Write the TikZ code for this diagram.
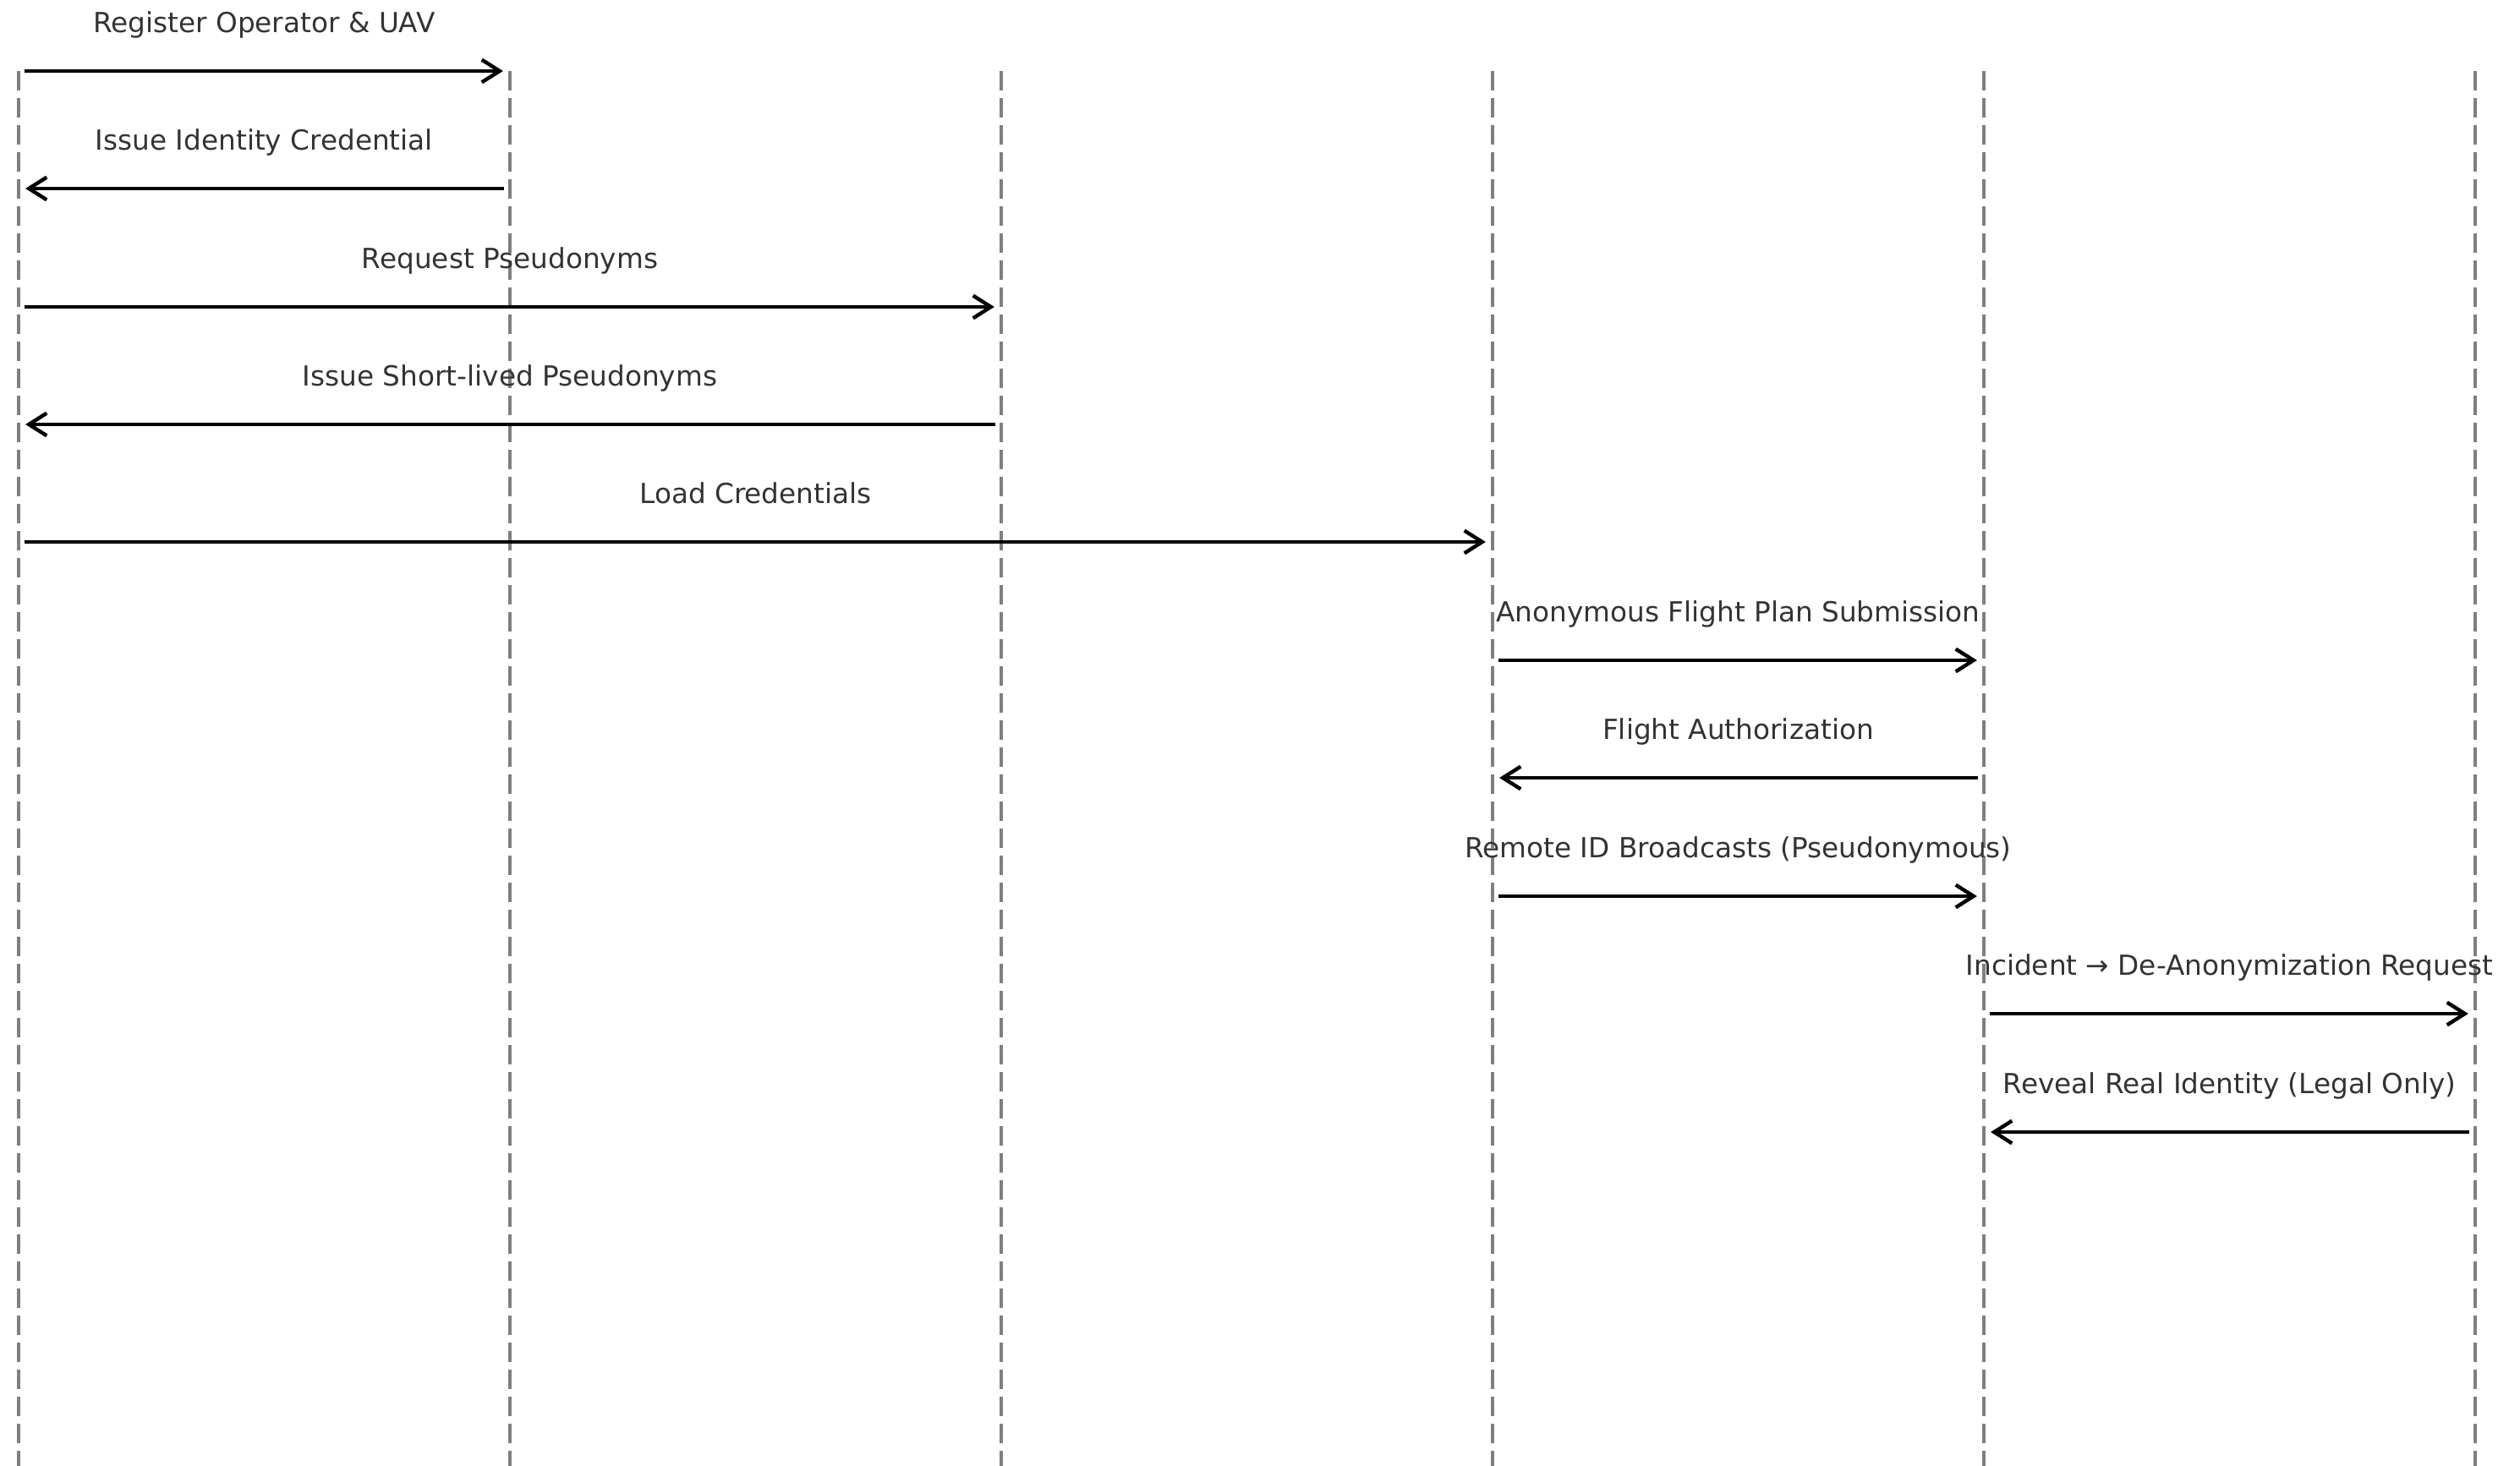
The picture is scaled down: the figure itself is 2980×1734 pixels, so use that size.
\documentclass[tikz,border=0pt]{standalone}
\usepackage{fontspec}
\setmainfont{DejaVu Sans}
\usetikzlibrary{arrows.meta}
\definecolor{lifegray}{HTML}{7F7F7F}
\definecolor{labelgray}{HTML}{333333}
\begin{document}
\begin{tikzpicture}[x=0.01cm,y=-0.01cm,
  lifeline/.style={draw=lifegray, line width=1.35pt, dash pattern=on 6.5pt off 2.6pt},
  msg/.style={draw=black, line width=1.25pt,
    -{Straight Barb[length=6pt,width=7.6pt]},
    shorten <=2pt, shorten >=2.3pt},
  msglabel/.style={text=labelgray, font=\fontsize{9.3pt}{11pt}\selectfont,
    anchor=base, inner sep=0pt, midway, yshift=12.8pt}]
\useasboundingbox (0,0) rectangle (2980,1734);

% lifelines
\foreach \i/\x in {0/22,1/603,2/1184,3/1765,4/2346,5/2927}{
  \coordinate (L\i top) at (\x,84);
  \coordinate (L\i bot) at (\x,1734);
  \draw[lifeline] (L\i top) -- (L\i bot);
}

% message rows
\foreach \k/\y in {1/84,2/223,3/363,4/502,5/641,6/781,7/920,8/1060,9/1199,10/1339}{
  \coordinate (r\k) at (0,\y);
}

\draw[msg] (L0top |- r1) -- node[msglabel]{Register Operator \& UAV} (L1top |- r1);
\draw[msg] (L1top |- r2) -- node[msglabel]{Issue Identity Credential} (L0top |- r2);
\draw[msg] (L0top |- r3) -- node[msglabel]{Request Pseudonyms} (L2top |- r3);
\draw[msg] (L2top |- r4) -- node[msglabel]{Issue Short-lived Pseudonyms} (L0top |- r4);
\draw[msg] (L0top |- r5) -- node[msglabel]{Load Credentials} (L3top |- r5);
\draw[msg] (L3top |- r6) -- node[msglabel]{Anonymous Flight Plan Submission} (L4top |- r6);
\draw[msg] (L4top |- r7) -- node[msglabel]{Flight Authorization} (L3top |- r7);
\draw[msg] (L3top |- r8) -- node[msglabel]{Remote ID Broadcasts (Pseudonymous)} (L4top |- r8);
\draw[msg] (L4top |- r9) -- node[msglabel]{Incident → De-Anonymization Request} (L5top |- r9);
\draw[msg] (L5top |- r10) -- node[msglabel]{Reveal Real Identity (Legal Only)} (L4top |- r10);
\end{tikzpicture}
\end{document}
